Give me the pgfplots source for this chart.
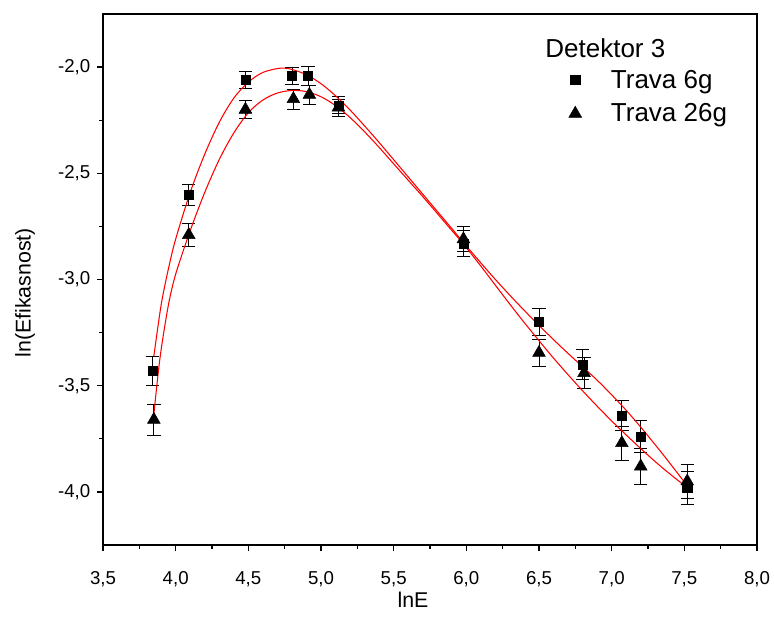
\documentclass[border=0pt]{standalone}
\usepackage{fontspec}
\setmainfont{Liberation Sans}
\usepackage{pgfplots}
\pgfplotsset{compat=1.18}
\usepackage{pgfplotstable}

\pgfplotstableread{
x y ey
3.84 -3.43 0.07
4.09 -2.60 0.05
4.48 -2.06 0.04
4.80 -2.04 0.04
4.91 -2.04 0.045
5.12 -2.18 0.04
5.98 -2.83 0.06
6.50 -3.20 0.065
6.80 -3.40 0.07
7.07 -3.64 0.07
7.20 -3.74 0.075
7.52 -3.98 0.077
}\sqdata

\pgfplotstableread{
x y ey
3.85 -3.66 0.073
4.09 -2.79 0.056
4.48 -2.20 0.042
4.81 -2.15 0.047
4.92 -2.13 0.045
5.12 -2.19 0.04
5.98 -2.81 0.06
6.50 -3.345 0.065
6.81 -3.44 0.074
7.07 -3.77 0.08
7.20 -3.88 0.085
7.52 -3.95 0.08
}\tridata

\pgfplotstableread{
x y
3.85 -3.36
3.90 -3.12
3.95 -2.95
4.00 -2.81
4.10 -2.59
4.20 -2.41
4.30 -2.26
4.40 -2.146
4.50 -2.071
4.60 -2.025
4.72 -2.005
4.80 -2.011
4.90 -2.036
5.00 -2.078
5.10 -2.135
5.20 -2.202
5.30 -2.277
5.40 -2.355
5.50 -2.436
5.60 -2.517
5.70 -2.598
5.80 -2.679
5.90 -2.760
5.98 -2.826
6.10 -2.922
6.20 -3.000
6.35 -3.111
6.50 -3.216
6.65 -3.316
6.80 -3.411
6.90 -3.474
7.00 -3.543
7.10 -3.616
7.20 -3.695
7.35 -3.821
7.51 -3.962
}\sqfit

\pgfplotstableread{
x y
3.85 -3.635
3.875 -3.47
3.90 -3.33
3.95 -3.12
4.00 -2.975
4.10 -2.77
4.20 -2.59
4.30 -2.435
4.40 -2.31
4.50 -2.215
4.60 -2.155
4.70 -2.122
4.80 -2.110
4.90 -2.1155
5.00 -2.1395
5.10 -2.181
5.20 -2.2375
5.30 -2.3045
5.40 -2.378
5.50 -2.4555
5.60 -2.5325
5.70 -2.6095
5.80 -2.689
5.90 -2.769
5.98 -2.833
6.10 -2.937
6.25 -3.072
6.40 -3.204
6.60 -3.370
6.80 -3.524
7.00 -3.666
7.20 -3.796
7.35 -3.887
7.51 -3.975
}\trifit

\begin{document}
\begin{tikzpicture}
\useasboundingbox (-77.25pt,-55.5pt) rectangle (503.25pt,408.75pt);
\begin{axis}[
  at={(0,0)}, anchor=south west, scale only axis,
  width=490.5pt, height=398.25pt,
  xmin=3.5, xmax=8.0, ymin=-4.25, ymax=-1.75,
  xtick={3.5,4.0,4.5,5.0,5.5,6.0,6.5,7.0,7.5,8.0},
  ytick={-4.0,-3.5,-3.0,-2.5,-2.0},
  minor x tick num=1, minor y tick num=1,
  tick align=outside, tick pos=left,
  major tick length=4.5pt, minor tick length=3pt,
  axis line style={line width=1.2pt},
  every tick/.style={line width=1pt, black},
  /pgf/number format/.cd, fixed, fixed zerofill, precision=1, use comma, assume math mode=true,
  /pgfplots/.cd,
  ticklabel style={font=\fontsize{14}{16}\selectfont},
  xticklabel style={yshift=-12pt},
  yticklabel style={xshift=-1.5pt},
  xlabel={lnE}, ylabel={ln(Efikasnost)},
  label style={font=\fontsize{16}{19}\selectfont},
  xlabel style={at={(axis description cs:0.474,-0.103)}, anchor=center},
  ylabel style={at={(axis description cs:-0.119,0.475)}, anchor=center},
  legend style={draw=none, fill=none, at={(0.712,0.900)}, anchor=north west,
    font=\fontsize{19.5}{22}\selectfont, inner sep=0pt, row sep=6pt, column sep=20pt},
  legend cell align=left,
]
\addplot[only marks, mark=square*, mark size=3.4pt, black,
  error bars/.cd, y dir=both, y explicit,
  error mark options={black, line width=0.6pt, mark size=5pt, rotate=90},
  error bar style={line width=0.6pt, black}]
  table[x=x, y=y, y error=ey]{\sqdata};
\addlegendentry{Trava 6g}
\addplot[only marks, mark=triangle*, mark size=5.5pt, black,
  error bars/.cd, y dir=both, y explicit,
  error mark options={black, line width=0.6pt, mark size=5pt, rotate=90},
  error bar style={line width=0.6pt, black}]
  table[x=x, y=y, y error=ey]{\tridata};
\addlegendentry{Trava 26g}
\addplot[red, line width=0.8pt, smooth, tension=0.5, forget plot] table[x=x, y=y]{\sqfit};
\addplot[red, line width=0.8pt, smooth, tension=0.5, forget plot] table[x=x, y=y]{\trifit};
\node[anchor=west, font=\fontsize{19.5}{22}\selectfont, inner sep=0pt] at (rel axis cs:0.676,0.936) {Detektor 3};
\end{axis}
\end{tikzpicture}
\end{document}
